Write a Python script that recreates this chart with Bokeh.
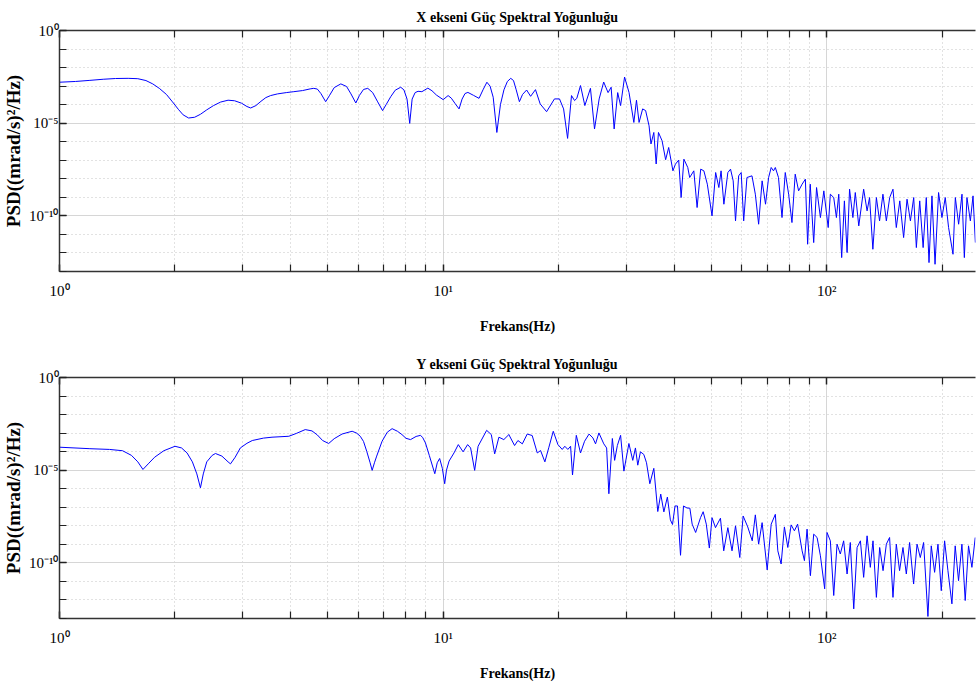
from bokeh.plotting import figure
from bokeh.layouts import column
from bokeh.models import LogAxis, FixedTicker, CustomJSTickFormatter, Range1d, ColumnDataSource
from bokeh.embed import file_html
from bokeh.resources import INLINE

# ---------------- data ----------------
x_freq = [1.0, 1.1, 1.2, 1.3, 1.4, 1.51, 1.6, 1.68, 1.75, 1.82,
          1.9, 1.97, 2.04, 2.1, 2.17, 2.25, 2.33, 2.42, 2.52, 2.63,
          2.75, 2.86, 2.98, 3.08, 3.15, 3.25, 3.35, 3.45, 3.55, 3.7,
          3.9, 4.08, 4.3, 4.5, 4.6, 4.7, 4.8, 4.94, 5.05, 5.2,
          5.41, 5.6, 5.75, 5.92, 6.05, 6.2, 6.36, 6.55, 6.75, 6.95,
          7.1, 7.3, 7.5, 7.75, 7.9, 8.05, 8.18, 8.3, 8.45, 8.6,
          8.8, 9.12, 9.35, 9.6, 10.0, 10.3, 10.5, 10.75, 11.0, 11.2,
          11.4, 11.6, 12.0, 12.4, 12.7, 13.0, 13.25, 13.5, 13.8, 14.1,
          14.4, 14.7, 15.0, 15.25, 15.5, 15.8, 16.1, 16.5,
          16.9, 17.4, 17.9, 18.6, 19.5,
          20.1, 20.6, 21.1, 21.6, 22.0, 22.3, 22.8, 23.4, 24.2, 24.8,
          25.5, 26.2, 26.9, 27.4, 27.9, 28.5, 29.0, 29.7, 30.5, 31.4,
          31.9, 32.4, 33.1, 33.7, 34.4, 34.8, 35.4, 35.9, 36.4, 37.2,
          38.0, 38.7, 39.7, 40.3, 41.1, 41.7, 42.4, 43.4, 43.9, 45.0,
          45.9, 46.9, 47.8, 48.8, 50.2, 51.3, 52.3, 53.0, 53.9, 55.2,
          56.1, 57.0, 57.8, 58.9, 59.8, 60.7, 61.9, 63.8, 65.1, 66.4,
          67.8, 69.2, 70.5, 71.6, 72.6, 73.4, 74.8, 76.4, 77.9, 79.5,
          81.1, 82.7, 84.4, 86.2, 87.9, 89.1, 90.5, 92.4, 94.0, 96.2,
          98.2, 100.8, 102.1, 104.2, 105.9, 107.4, 109.3, 111.1, 112.9, 114.6,
          116.9, 118.6, 121.1, 124.7, 127.3, 129.2, 131.8, 134.6, 137.2, 140.0,
          142.9, 145.8, 148.7, 151.7, 154.9, 158.5, 161.8, 165.1, 168.4, 171.1,
          174.6, 178.2, 181.6, 184.6, 187.9, 191.4, 195.5, 199.5, 203.5, 207.6,
          213.2, 216.2, 220.5, 225.0, 228.2, 231.8, 236.6, 240.4, 243.8]
x_log_psd = [-2.79, -2.75, -2.69, -2.63, -2.59, -2.58, -2.60, -2.70, -2.88, -3.12,
             -3.45, -3.85, -4.25, -4.55, -4.72, -4.68, -4.52, -4.28, -4.05, -3.86,
             -3.76, -3.79, -3.92, -4.10, -4.18, -4.05, -3.82, -3.62, -3.51, -3.42,
             -3.35, -3.30, -3.24, -3.15, -3.12, -3.16, -3.40, -3.84, -3.52, -3.08,
             -2.88, -3.02, -3.42, -3.91, -3.50, -3.18, -3.12, -3.35, -3.85, -4.32,
             -4.00, -3.57, -3.22, -3.06, -3.20, -3.70, -5.01, -3.70, -3.35, -3.28,
             -3.30, -3.11, -3.25, -3.48, -3.73, -3.51, -3.65, -3.95, -4.23, -3.70,
             -3.40, -3.34, -3.50, -3.66, -3.20, -2.79, -3.00, -3.60, -5.50, -4.00,
             -3.20, -2.75, -2.58, -2.70, -3.20, -3.84, -3.45, -3.21,
             -3.55, -3.19, -3.96, -4.38, -3.69,
             -3.69, -4.23, -5.82, -3.51, -3.78, -3.66, -2.97, -4.05, -3.12, -5.31,
             -3.69, -2.78, -3.35, -3.06, -5.31, -3.35, -4.05, -2.51, -3.34, -4.96,
             -3.76, -4.96, -4.23, -4.32, -5.14, -6.12, -5.50, -7.20, -5.50, -5.95,
             -6.97, -6.31, -7.57, -7.21, -6.99, -9.01, -6.94, -7.39, -7.93, -7.57,
             -9.55, -7.48, -7.57, -8.29, -10.00, -7.66, -8.47, -7.57, -9.37, -7.66,
             -7.48, -8.11, -10.27, -7.84, -7.66, -10.27, -7.93, -7.84, -8.83, -10.45,
             -8.11, -9.37, -7.93, -7.39, -7.57, -7.39, -7.93, -10.09, -7.66, -8.83,
             -10.36, -7.75, -8.65, -8.29, -8.02, -11.53, -8.29, -11.44, -8.47, -10.09,
             -8.65, -10.63, -8.83, -9.01, -10.09, -8.83, -12.25, -9.19, -11.98, -8.56,
             -10.09, -8.74, -10.54, -8.56, -9.73, -9.01, -11.80, -9.01, -10.27, -8.83,
             -10.27, -9.01, -8.56, -10.63, -9.19, -11.17, -9.10, -10.27, -9.01, -11.71,
             -9.19, -11.71, -9.01, -12.52, -8.92, -12.61, -8.74, -10.09, -9.01, -10.63,
             -12.07, -9.01, -10.45, -8.83, -12.25, -9.01, -10.27, -8.92, -11.44]

y_freq = [1.0, 1.2, 1.35, 1.46, 1.54, 1.6, 1.65, 1.71, 1.77, 1.87,
          2.0, 2.08, 2.15, 2.22, 2.28, 2.33, 2.37, 2.42, 2.5, 2.55,
          2.65, 2.75, 2.79, 2.87, 2.96, 3.08, 3.18, 3.4, 3.58, 3.96,
          4.15, 4.37, 4.55, 4.7, 4.85, 5.03, 5.2, 5.45, 5.79, 5.95,
          6.08, 6.2, 6.32, 6.45, 6.53, 6.62, 6.71, 6.93, 7.15, 7.36,
          7.6, 7.81, 8.0, 8.22, 8.5, 8.73, 8.85, 8.99, 9.2, 9.51,
          9.65, 9.79, 9.95, 10.09, 10.2, 10.36, 10.67, 10.95, 11.27,
          11.58, 11.79, 12.08, 12.33, 12.98, 13.35, 13.62, 13.97,
          14.39, 14.83, 15.35, 15.66, 16.08, 16.56, 17.06, 17.59, 17.94, 18.41,
          18.86, 19.36, 19.91, 20.43, 20.75, 21.13, 21.48, 21.73, 22.23, 22.80,
          23.36, 24.0, 24.56, 24.95, 25.46, 26.22, 26.67, 27.03, 27.60, 27.98,
          28.44, 29.0, 29.58, 30.48, 31.2, 31.7, 32.15, 32.67, 33.33, 33.88,
          34.56, 35.4, 36.25, 36.9, 37.6, 38.4, 39.1, 39.6, 40.2, 40.8,
          41.55, 42.3, 43.2, 43.95, 44.56, 45.5, 46.85, 47.6, 48.5, 49.4,
          50.2, 51.25, 52.8, 53.85, 55.2, 56.6, 57.8, 59.3, 60.5, 62.2,
          63.9, 65.1, 66.4, 67.8, 69.9, 71.6, 73.4, 74.5, 76.0, 77.5,
          79.1, 80.7, 82.3, 83.9, 86.2, 87.4, 88.8, 90.6, 92.4, 94.3,
          96.2, 98.7, 100.1, 102.1, 104.2, 106.3, 108.4, 110.6, 112.9, 115.1,
          117.5, 119.9, 122.3, 124.7, 127.3, 129.8, 131.9, 134.6, 137.3, 140.1,
          142.9, 145.7, 148.7, 151.7, 154.7, 157.9, 161.1, 164.3, 168.3, 171.8,
          175.2, 178.7, 183.4, 187.1, 190.9, 194.8, 198.7, 202.7, 206.8, 211.8,
          216.0, 220.4, 224.9, 229.4, 234.0, 238.8, 243.6]
y_log_psd = [-3.76, -3.84, -3.88, -3.95, -4.20, -4.55, -4.96, -4.62, -4.30, -3.95,
             -3.71, -3.80, -4.07, -4.55, -5.20, -5.95, -5.20, -4.55, -4.20, -4.10,
             -4.24, -4.55, -4.66, -4.30, -3.80, -3.55, -3.40, -3.27, -3.22, -3.17,
             -3.01, -2.81, -2.88, -3.10, -3.40, -3.56, -3.30, -3.05, -2.90, -3.00,
             -3.17, -3.45, -3.98, -4.60, -5.01, -4.60, -4.24, -3.44, -2.95, -2.76,
             -2.90, -3.08, -3.28, -3.35, -3.18, -3.12, -3.25, -3.53, -4.20, -5.19,
             -4.60, -4.37, -4.90, -5.73, -5.00, -4.51, -4.07, -3.62, -4.01,
             -3.62, -3.80, -5.01, -3.71, -2.85, -3.08, -4.12, -3.22,
             -3.35, -3.08, -3.67, -3.40, -3.58, -3.05, -3.13, -4.07, -3.94, -4.55,
             -3.76, -2.90, -3.62, -3.88, -3.71, -3.88, -3.71, -5.26, -3.12, -4.07,
             -3.44, -3.05, -3.26, -3.58, -2.99, -3.58, -3.80, -6.27, -3.29, -4.47,
             -3.67, -3.12, -5.05, -3.56, -4.47, -3.80, -4.73, -4.01, -4.15, -4.60,
             -5.73, -4.90, -7.23, -6.29, -7.25, -6.45, -7.68, -7.93, -6.93, -6.93,
             -9.59, -6.93, -7.04, -7.05, -7.91, -8.36, -7.56, -7.24, -7.91, -9.20,
             -7.56, -8.10, -7.59, -9.35, -8.10, -9.35, -8.00, -9.71, -7.47, -8.06,
             -8.81, -7.41, -8.99, -7.83, -10.38, -7.91, -7.38, -9.35, -10.06, -8.06,
             -9.17, -7.95, -8.27, -7.91, -9.35, -9.88, -8.18, -10.69, -8.45, -8.63,
             -9.62, -11.40, -8.36, -8.81, -11.76, -8.99, -9.52, -8.81, -10.60, -8.90,
             -12.48, -9.17, -8.81, -10.78, -8.54, -10.24, -8.81, -11.86, -9.17, -10.42,
             -8.99, -8.63, -11.86, -8.99, -10.42, -9.17, -10.60, -8.90, -11.14, -8.99,
             -9.71, -8.90, -12.89, -9.08, -10.51, -8.99, -11.50, -8.81, -10.42, -12.21,
             -9.08, -10.96, -8.99, -12.03, -9.08, -10.24, -8.63]

titles = ["X ekseni Güç Spektral Yoğunluğu", "Y ekseni Güç Spektral Yoğunluğu"]
x_label = "Frekans(Hz)"
y_label = "PSD((mrad/s)²/Hz)"
x_major_ticks = [1, 10, 100]
x_minor_ticks = [2, 3, 4, 5, 6, 7, 8, 9, 20, 30, 40, 50, 60, 70, 80, 90, 200, 300]
y_major_ticks = [1e-10, 1e-5, 1e0]
y_minor_ticks = [1e-13, 1e-12, 1e-11, 1e-10, 1e-9, 1e-8, 1e-7, 1e-6,
                 1e-5, 1e-4, 1e-3, 1e-2, 1e-1, 1e0]
x_limits = (1, 244)
y_limits = (1e-13, 1e0)

FONT = "Liberation Serif"
SUP_JS = """
const sup = {"0":"\u2070","1":"\u00b9","2":"\u00b2","3":"\u00b3","4":"\u2074",
             "5":"\u2075","6":"\u2076","7":"\u2077","8":"\u2078","9":"\u2079","-":"\u207b"};
const e = Math.round(Math.log10(tick));
return "10" + String(e).split("").map(c => sup[c]).join("");
"""


def make_panel(title, freq, log_psd):
    n = min(len(freq), len(log_psd))
    psd = [10.0 ** v for v in log_psd[:n]]
    src = ColumnDataSource(data=dict(f=freq[:n], psd=psd))
    p = figure(width=976, height=347, x_axis_type="log", y_axis_type="log",
               x_range=Range1d(*x_limits), y_range=Range1d(*y_limits),
               output_backend="svg", toolbar_location=None,
               min_border_left=58, min_border_right=1,
               min_border_top=30, min_border_bottom=76)
    p.outline_line_color = None
    p.background_fill_color = "white"
    p.border_fill_color = "white"

    p.title.text = title
    p.title.align = "center"
    p.title.text_font = FONT
    p.title.text_font_size = "14px"
    p.title.text_font_style = "bold"
    p.title.text_color = "black"
    p.title.standoff = 12

    xt = FixedTicker(ticks=x_major_ticks, minor_ticks=x_minor_ticks)
    yt = FixedTicker(ticks=y_major_ticks, minor_ticks=y_minor_ticks)
    fmt = CustomJSTickFormatter(code=SUP_JS)

    xa = p.xaxis[0]
    xa.ticker = xt
    xa.formatter = fmt
    ya = p.yaxis[0]
    ya.ticker = yt
    ya.formatter = fmt

    for ax in (xa, ya):
        ax.major_tick_in = 7
        ax.major_tick_out = 0
        ax.minor_tick_in = 7
        ax.minor_tick_out = 0
        ax.major_tick_line_color = "#222222"
        ax.minor_tick_line_color = "#222222"
        ax.major_tick_line_width = 1.5
        ax.minor_tick_line_width = 1.2
        ax.axis_line_color = "#333333"
        ax.axis_line_width = 1.5
        ax.major_label_text_font = FONT
        ax.major_label_text_font_size = "15px"
        ax.major_label_text_color = "black"
        ax.axis_label_text_font = FONT
        ax.axis_label_text_font_style = "bold"
        ax.axis_label_text_color = "black"

    xa.axis_label = x_label
    xa.axis_label_text_font_size = "14px"
    xa.major_label_standoff = 11
    xa.axis_label_standoff = 17
    ya.axis_label = y_label
    ya.axis_label_text_font_size = "19px"
    ya.major_label_standoff = 1
    ya.axis_label_standoff = 2

    top = LogAxis(ticker=xt, formatter=CustomJSTickFormatter(code="return ''"),
                  major_tick_in=7, major_tick_out=0, minor_tick_in=7, minor_tick_out=0,
                  major_tick_line_color="#222222", minor_tick_line_color="#222222",
                  major_tick_line_width=1.5, minor_tick_line_width=1.2,
                  axis_line_color="#333333", axis_line_width=1.5,
                  major_label_standoff=0, major_label_text_font_size="1px")
    p.add_layout(top, "above")

    p.xgrid.ticker = xt
    p.ygrid.ticker = yt
    for g in (p.xgrid, p.ygrid):
        g.grid_line_color = "#d6d6d6"
        g.grid_line_width = 1
        g.minor_grid_line_color = "#c4c4c4"
        g.minor_grid_line_dash = "1 3"
        g.minor_grid_line_width = 1

    p.line("f", "psd", source=src, line_color="#0000ff", line_width=1)
    return p


p1 = make_panel(titles[0], x_freq, x_log_psd)
p2 = make_panel(titles[1], y_freq, y_log_psd)
layout = column(p1, p2, spacing=0)

open("out.html", "w").write(file_html(layout, INLINE))
